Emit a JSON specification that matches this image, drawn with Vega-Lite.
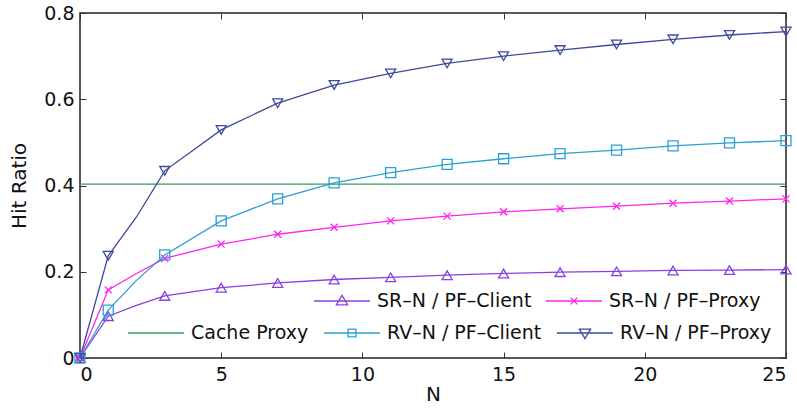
{
  "$schema": "https://vega.github.io/schema/vega-lite/v6.json",
  "width": 706,
  "height": 345,
  "autosize": "none",
  "padding": {"left": 80, "top": 13, "right": 11, "bottom": 50},
  "background": "white",
  "config": {
    "view": {"stroke": "#222222", "strokeWidth": 1.5},
    "font": "DejaVu Sans",
    "axis": {"labelFont": "DejaVu Sans", "titleFont": "DejaVu Sans", "labelColor": "#111111", "titleColor": "#111111", "labelFontSize": 19, "titleFontSize": 20, "titleFontWeight": "normal", "grid": false, "domain": false, "tickColor": "#333333", "tickSize": -6, "tickWidth": 1},
    "legend": {"labelFont": "DejaVu Sans", "labelFontSize": 19, "labelColor": "#111111", "labelLimit": 400}
  },
  "data": {
    "values": [
      {"series": "SR–N / PF–Client", "N": 0, "ratio": 0},
      {"series": "SR–N / PF–Client", "N": 1, "ratio": 0.097},
      {"series": "SR–N / PF–Client", "N": 2, "ratio": 0.122},
      {"series": "SR–N / PF–Client", "N": 3, "ratio": 0.144},
      {"series": "SR–N / PF–Client", "N": 5, "ratio": 0.163},
      {"series": "SR–N / PF–Client", "N": 7, "ratio": 0.174},
      {"series": "SR–N / PF–Client", "N": 9, "ratio": 0.182},
      {"series": "SR–N / PF–Client", "N": 11, "ratio": 0.187},
      {"series": "SR–N / PF–Client", "N": 13, "ratio": 0.192},
      {"series": "SR–N / PF–Client", "N": 15, "ratio": 0.196},
      {"series": "SR–N / PF–Client", "N": 17, "ratio": 0.199},
      {"series": "SR–N / PF–Client", "N": 19, "ratio": 0.201},
      {"series": "SR–N / PF–Client", "N": 21, "ratio": 0.203},
      {"series": "SR–N / PF–Client", "N": 23, "ratio": 0.204},
      {"series": "SR–N / PF–Client", "N": 25, "ratio": 0.205},
      {"series": "SR–N / PF–Proxy", "N": 0, "ratio": 0},
      {"series": "SR–N / PF–Proxy", "N": 1, "ratio": 0.158},
      {"series": "SR–N / PF–Proxy", "N": 2, "ratio": 0.196},
      {"series": "SR–N / PF–Proxy", "N": 3, "ratio": 0.231},
      {"series": "SR–N / PF–Proxy", "N": 5, "ratio": 0.264},
      {"series": "SR–N / PF–Proxy", "N": 7, "ratio": 0.287},
      {"series": "SR–N / PF–Proxy", "N": 9, "ratio": 0.303},
      {"series": "SR–N / PF–Proxy", "N": 11, "ratio": 0.318},
      {"series": "SR–N / PF–Proxy", "N": 13, "ratio": 0.329},
      {"series": "SR–N / PF–Proxy", "N": 15, "ratio": 0.339},
      {"series": "SR–N / PF–Proxy", "N": 17, "ratio": 0.346},
      {"series": "SR–N / PF–Proxy", "N": 19, "ratio": 0.352},
      {"series": "SR–N / PF–Proxy", "N": 21, "ratio": 0.359},
      {"series": "SR–N / PF–Proxy", "N": 23, "ratio": 0.364},
      {"series": "SR–N / PF–Proxy", "N": 25, "ratio": 0.369},
      {"series": "Cache Proxy", "N": 0, "ratio": 0.403},
      {"series": "Cache Proxy", "N": 25, "ratio": 0.403},
      {"series": "RV–N / PF–Client", "N": 0, "ratio": 0},
      {"series": "RV–N / PF–Client", "N": 1, "ratio": 0.111},
      {"series": "RV–N / PF–Client", "N": 2, "ratio": 0.18},
      {"series": "RV–N / PF–Client", "N": 3, "ratio": 0.239},
      {"series": "RV–N / PF–Client", "N": 5, "ratio": 0.318},
      {"series": "RV–N / PF–Client", "N": 7, "ratio": 0.369},
      {"series": "RV–N / PF–Client", "N": 9, "ratio": 0.406},
      {"series": "RV–N / PF–Client", "N": 11, "ratio": 0.43},
      {"series": "RV–N / PF–Client", "N": 13, "ratio": 0.449},
      {"series": "RV–N / PF–Client", "N": 15, "ratio": 0.462},
      {"series": "RV–N / PF–Client", "N": 17, "ratio": 0.474},
      {"series": "RV–N / PF–Client", "N": 19, "ratio": 0.482},
      {"series": "RV–N / PF–Client", "N": 21, "ratio": 0.492},
      {"series": "RV–N / PF–Client", "N": 23, "ratio": 0.499},
      {"series": "RV–N / PF–Client", "N": 25, "ratio": 0.504},
      {"series": "RV–N / PF–Proxy", "N": 0, "ratio": 0},
      {"series": "RV–N / PF–Proxy", "N": 1, "ratio": 0.237},
      {"series": "RV–N / PF–Proxy", "N": 2, "ratio": 0.327},
      {"series": "RV–N / PF–Proxy", "N": 3, "ratio": 0.434},
      {"series": "RV–N / PF–Proxy", "N": 5, "ratio": 0.529},
      {"series": "RV–N / PF–Proxy", "N": 7, "ratio": 0.591},
      {"series": "RV–N / PF–Proxy", "N": 9, "ratio": 0.633},
      {"series": "RV–N / PF–Proxy", "N": 11, "ratio": 0.66},
      {"series": "RV–N / PF–Proxy", "N": 13, "ratio": 0.683},
      {"series": "RV–N / PF–Proxy", "N": 15, "ratio": 0.7},
      {"series": "RV–N / PF–Proxy", "N": 17, "ratio": 0.714},
      {"series": "RV–N / PF–Proxy", "N": 19, "ratio": 0.727},
      {"series": "RV–N / PF–Proxy", "N": 21, "ratio": 0.739},
      {"series": "RV–N / PF–Proxy", "N": 23, "ratio": 0.749},
      {"series": "RV–N / PF–Proxy", "N": 25, "ratio": 0.757}
    ]
  },
  "layer": [
    {
      "transform": [{"filter": "indexof(datum.series, 'SR') == 0"}],
      "encoding": {
        "x": {"field": "N", "type": "quantitative", "scale": {"domain": [0, 25], "nice": false},
              "axis": {"orient": "bottom", "values": [0, 5, 10, 15, 20, 25], "title": "N", "labelPadding": 13, "titlePadding": 0}},
        "y": {"field": "ratio", "type": "quantitative", "scale": {"domain": [0, 0.8], "nice": false},
              "axis": {"orient": "left", "values": [0, 0.2, 0.4, 0.6, 0.8], "format": ".1~f", "title": "Hit Ratio", "labelPadding": 12, "titlePadding": 14}},
        "color": {"field": "series", "type": "nominal",
          "scale": {"domain": ["SR–N / PF–Client", "SR–N / PF–Proxy"], "range": ["#8a3fe0", "#ff22f0"]},
          "legend": {"title": null, "orient": "none", "legendX": 233, "legendY": 259, "columns": 2, "columnPadding": 11, "gridAlign": "none",
                     "symbolSize": 3136, "symbolStrokeWidth": 1.3, "labelOffset": 6, "padding": 0,
                     "encode": {"symbols": {"update": {"fill": {"value": "transparent"}, "size": {"value": 3136},
                       "shape": {"signal": "datum.value == 'SR–N / PF–Client' ? 'M-1,0H1M0,-0.2L0.2,0.14L-0.2,0.14Z' : 'M-1,0H1M-0.12,-0.12L0.12,0.12M-0.12,0.12L0.12,-0.12'"}}}}}}
      },
      "layer": [
        {"mark": {"type": "line", "strokeWidth": 1.3}},
        {"transform": [{"filter": "datum.N != 2 && datum.series == 'SR–N / PF–Client'"}],
         "mark": {"type": "point", "filled": false, "strokeWidth": 1.3, "opacity": 1, "size": 100, "shape": "triangle-up"}},
        {"transform": [{"filter": "datum.N != 2 && datum.series == 'SR–N / PF–Proxy'"}],
         "mark": {"type": "point", "filled": false, "strokeWidth": 1.3, "opacity": 1, "size": 100, "shape": "M-0.7,-0.7L0.7,0.7M-0.7,0.7L0.7,-0.7"}}
      ]
    },
    {
      "transform": [{"filter": "indexof(datum.series, 'SR') != 0"}],
      "encoding": {
        "x": {"field": "N", "type": "quantitative", "scale": {"domain": [0, 25], "nice": false},
              "axis": {"orient": "top", "values": [0, 5, 10, 15, 20, 25], "labels": false, "title": null}},
        "y": {"field": "ratio", "type": "quantitative", "scale": {"domain": [0, 0.8], "nice": false},
              "axis": {"orient": "right", "values": [0, 0.2, 0.4, 0.6, 0.8], "labels": false, "title": null}},
        "color": {"field": "series", "type": "nominal",
          "scale": {"domain": ["Cache Proxy", "RV–N / PF–Client", "RV–N / PF–Proxy"], "range": ["#3a9a62", "#2aa0d4", "#3c4a9e"]},
          "legend": {"title": null, "orient": "none", "legendX": 47, "legendY": 291, "columns": 3, "columnPadding": 12, "gridAlign": "none",
                     "symbolSize": 3136, "symbolStrokeWidth": 1.3, "labelOffset": 6, "padding": 0,
                     "encode": {"symbols": {"update": {"fill": {"value": "transparent"}, "size": {"value": 3136},
                       "shape": {"signal": "datum.value == 'Cache Proxy' ? 'M-1,0H1' : datum.value == 'RV–N / PF–Client' ? 'M-1,0H1M-0.14,-0.14H0.14V0.14H-0.14Z' : 'M-1,0H1M0,0.2L0.2,-0.14L-0.2,-0.14Z'"}}}}}}
      },
      "layer": [
        {"mark": {"type": "line", "strokeWidth": 1.3}},
        {"transform": [{"filter": "datum.N != 2 && datum.series == 'RV–N / PF–Client'"}],
         "mark": {"type": "point", "filled": false, "strokeWidth": 1.3, "opacity": 1, "size": 100, "shape": "square"}},
        {"transform": [{"filter": "datum.N != 2 && datum.series == 'RV–N / PF–Proxy'"}],
         "mark": {"type": "point", "filled": false, "strokeWidth": 1.3, "opacity": 1, "size": 100, "shape": "triangle-down"}}
      ]
    }
  ],
  "resolve": {
    "scale": {"color": "independent"},
    "axis": {"x": "independent", "y": "independent"}
  }
}
